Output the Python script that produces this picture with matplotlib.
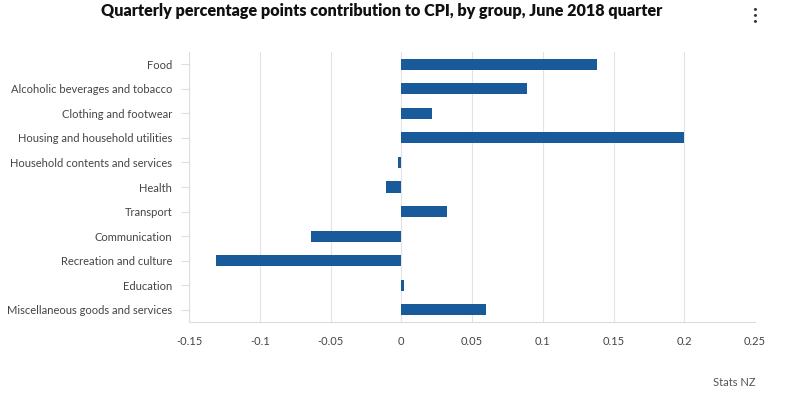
import matplotlib
matplotlib.use("Agg")
import matplotlib.pyplot as plt

categories = ["Food", "Alcoholic beverages and tobacco", "Clothing and footwear",
              "Housing and household utilities", "Household contents and services",
              "Health", "Transport", "Communication", "Recreation and culture",
              "Education", "Miscellaneous goods and services"]
values = [0.138, 0.089, 0.022, 0.200, -0.002, -0.011, 0.032, -0.064, -0.131, 0.002, 0.060]
xticks = [-0.15, -0.1, -0.05, 0, 0.05, 0.1, 0.15, 0.2, 0.25]
xticklabels = ["-0.15", "-0.1", "-0.05", "0", "0.05", "0.1", "0.15", "0.2", "0.25"]

plt.rcParams['font.family'] = ['Lato', 'DejaVu Sans']

W, H = 798, 397
fig = plt.figure(figsize=(W/100, H/100), dpi=100)
ax = fig.add_axes([189/W, 1-322/H, (755-189)/W, (322-52)/H])

y = list(range(len(categories)))
ax.barh(y, values, height=0.45, color="#195a9a", zorder=3)
ax.set_ylim(len(categories)-0.5, -0.5)
ax.set_xlim(-0.15, 0.25)
ax.set_yticks(y)
ax.set_yticklabels(categories, fontsize=8, color="#444444")
ax.set_xticks(xticks)
ax.set_xticklabels(xticklabels, fontsize=8, color="#444444")
ax.grid(axis="x", color="#e3e3e3", linewidth=0.8, zorder=0)
for s in ["top", "right"]:
    ax.spines[s].set_visible(False)
for s in ["left", "bottom"]:
    ax.spines[s].set_color("#d8dde6")
    ax.spines[s].set_linewidth(0.8)
ax.tick_params(axis="y", length=6, color="#d8dde6", pad=6)
ax.tick_params(axis="x", length=0, pad=10)

fig.text(382/W, 1-11/H, "Quarterly percentage points contribution to CPI, by group, June 2018 quarter",
         ha="center", va="center", fontsize=11.6, fontweight="heavy", color="#111111")
for dy in (-6, 0, 6):
    fig.text(755/W, 1-(15+dy)/H, "•", ha="center", va="center", fontsize=6, color="#333333")
fig.text(756/W, 1-383/H, "Stats NZ", ha="right", va="center", fontsize=8, color="#555555")

fig.savefig("out.png", dpi=100)
